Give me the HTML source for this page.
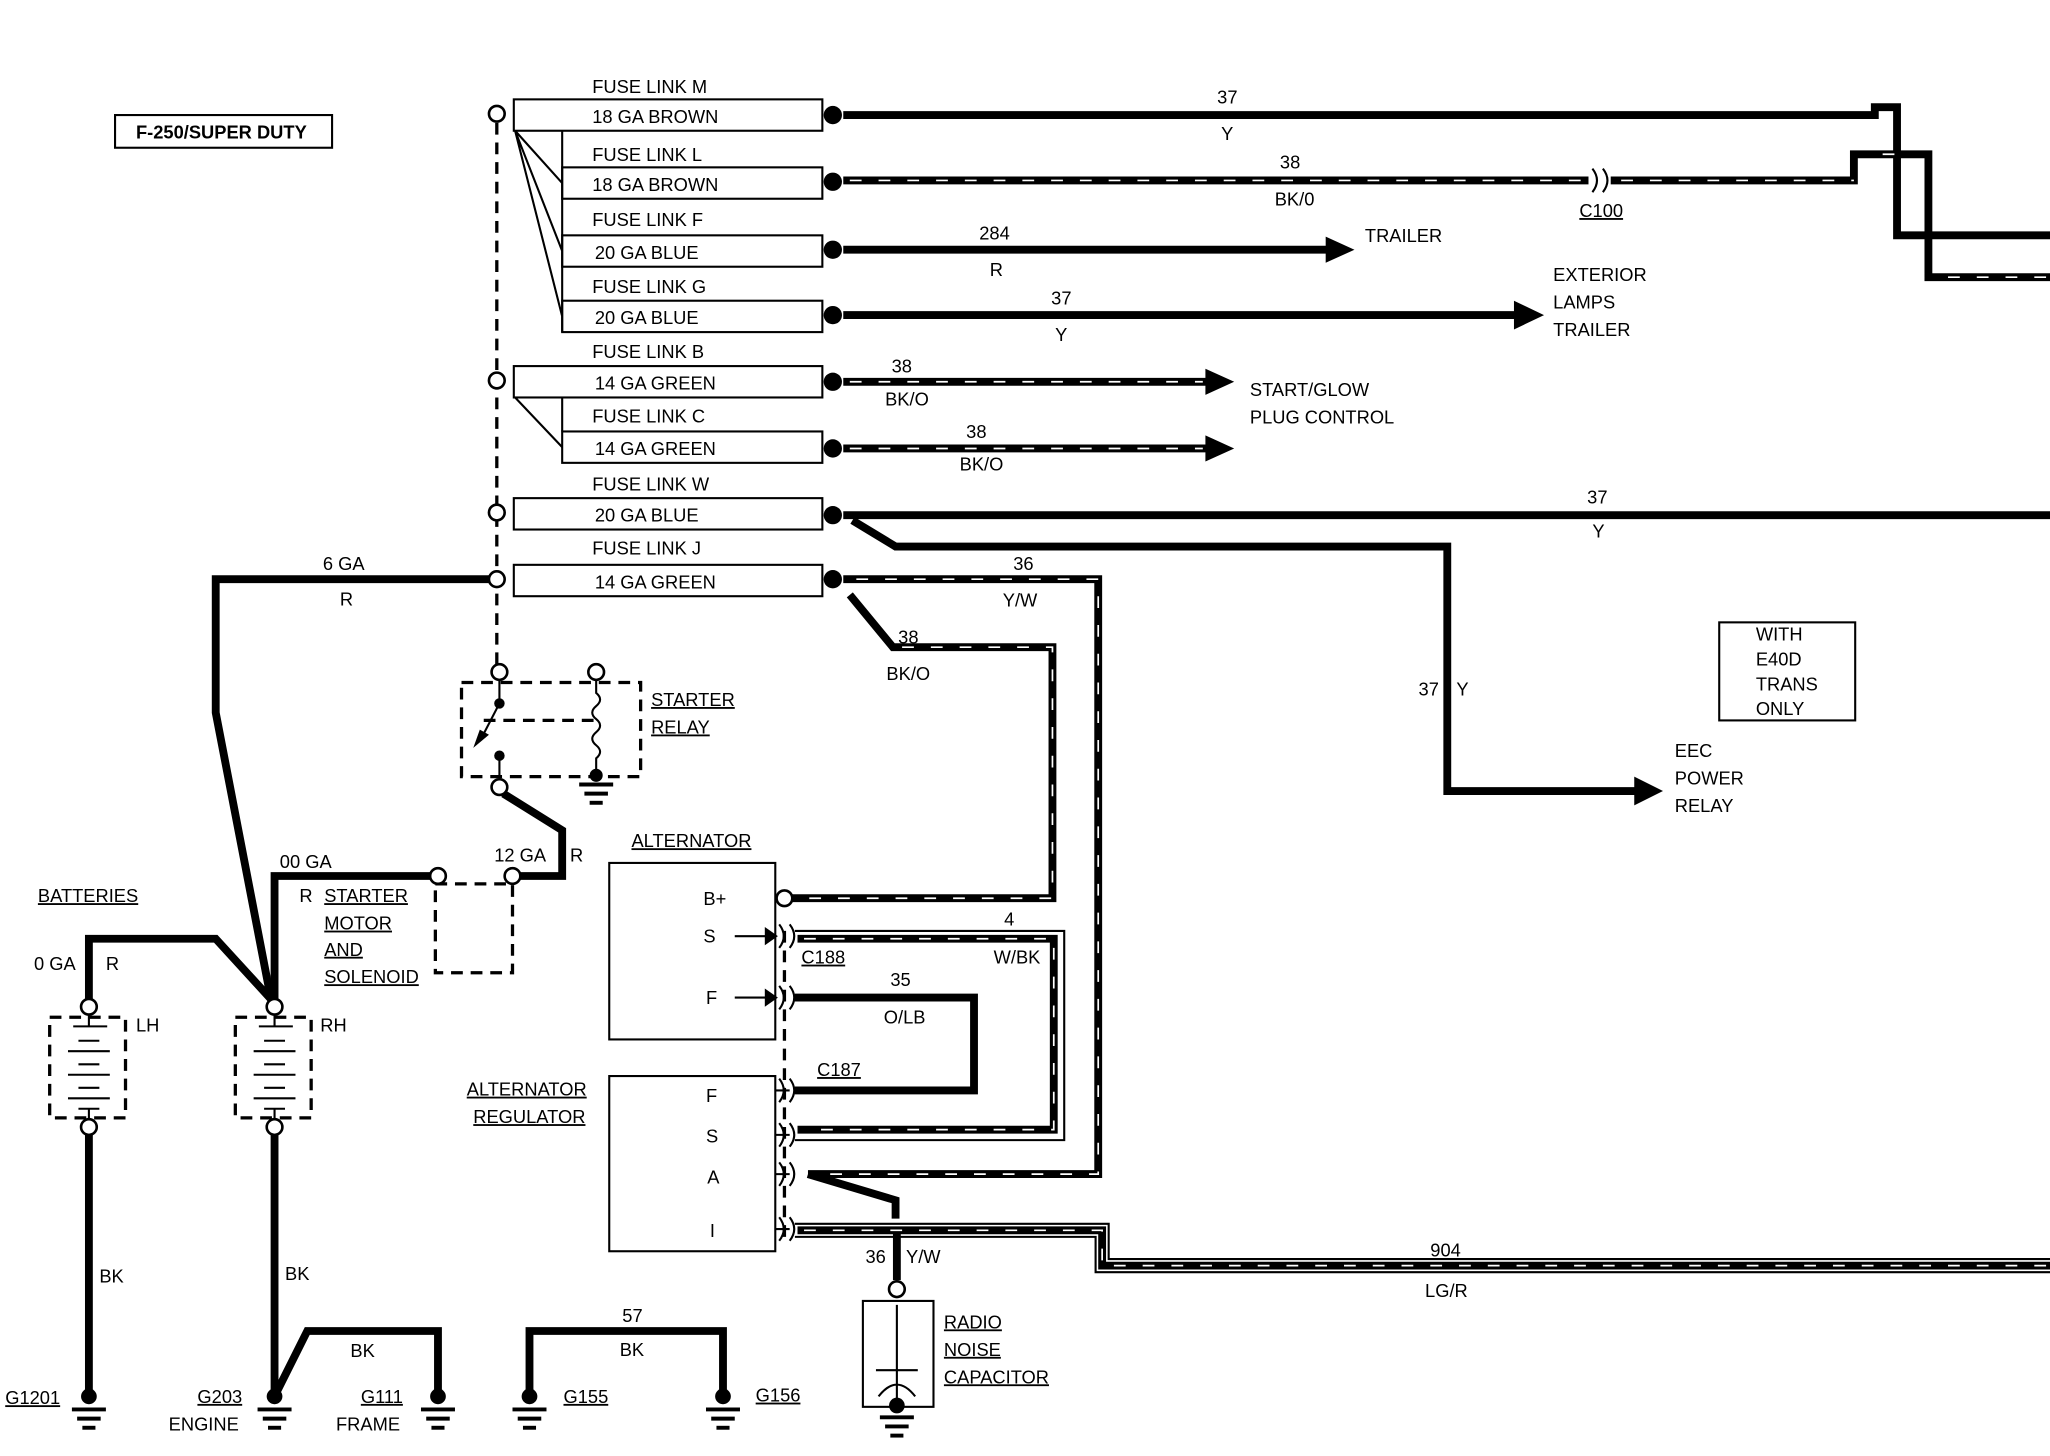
<!DOCTYPE html>
<html><head><meta charset="utf-8"><style>
html,body{margin:0;padding:0;background:#fff;}
svg{display:block;}
text{font-family:"Liberation Sans",sans-serif;font-size:14px;fill:#000;}
.w{stroke:#000;stroke-width:6;fill:none;stroke-linejoin:miter;}
.s{stroke:#fff;stroke-width:1.3;fill:none;stroke-dasharray:9 13;}
.t{stroke:#000;stroke-width:1.6;fill:none;}
.d{stroke:#000;stroke-width:2.5;fill:none;stroke-dasharray:9 6;}
.u{text-decoration:underline;}
</style></head><body>
<svg width="2050" height="1456" viewBox="0 0 1568 1113.6" preserveAspectRatio="none" xmlns="http://www.w3.org/2000/svg">
<defs>
<g id="gnd"><line x1="-13" y1="0" x2="13" y2="0" stroke="#000" stroke-width="3"/><line x1="-9" y1="7" x2="9" y2="7" stroke="#000" stroke-width="3"/><line x1="-5" y1="14" x2="5" y2="14" stroke="#000" stroke-width="3"/></g>
<g id="conn"><path d="M-8,-9 Q-1,0 -8,9" class="t" stroke-width="2.5"/><path d="M0,-9 Q7,0 0,9" class="t" stroke-width="2.5"/></g>
</defs>

<rect x="88" y="88" width="166" height="25" class="t" stroke-width="2"/>
<text x="104" y="106" font-size="13" font-weight="bold">F-250/SUPER DUTY</text>

<!-- dashed vertical bus -->
<line x1="380" y1="94" x2="380" y2="508" class="d" stroke-width="1.8"/>

<!-- fuse boxes -->
<g class="t" stroke-width="1.8">
<rect x="393" y="76" width="236" height="24"/>
<rect x="430" y="128" width="199" height="24"/>
<rect x="430" y="180" width="199" height="24"/>
<rect x="430" y="230" width="199" height="24"/>
<rect x="393" y="280" width="236" height="24"/>
<rect x="430" y="330" width="199" height="24"/>
<rect x="393" y="381" width="236" height="24"/>
<rect x="393" y="432" width="236" height="24"/>
<path d="M394,100 L430,140 M394,100 L430,192 M394,100 L430,242 M430,100 L430,254"/>
<path d="M394,304 L430,342 M430,304 L430,330"/>
</g>
<g font-size="14">
<text x="453" y="71">FUSE LINK M</text><text x="453" y="94">18 GA BROWN</text>
<text x="453" y="123">FUSE LINK L</text><text x="453" y="146">18 GA BROWN</text>
<text x="453" y="173">FUSE LINK F</text><text x="455" y="198">20 GA BLUE</text>
<text x="453" y="224">FUSE LINK G</text><text x="455" y="248">20 GA BLUE</text>
<text x="453" y="274">FUSE LINK B</text><text x="455" y="298">14 GA GREEN</text>
<text x="453" y="323">FUSE LINK C</text><text x="455" y="348">14 GA GREEN</text>
<text x="453" y="375">FUSE LINK W</text><text x="455" y="399">20 GA BLUE</text>
<text x="453" y="424">FUSE LINK J</text><text x="455" y="450">14 GA GREEN</text>
</g>
<g fill="#000">
<circle cx="637" cy="88" r="7"/><circle cx="637" cy="139" r="7"/><circle cx="637" cy="191" r="7"/><circle cx="637" cy="241" r="7"/>
<circle cx="637" cy="292" r="7"/><circle cx="637" cy="343" r="7"/><circle cx="637" cy="394" r="7"/><circle cx="637" cy="443" r="7"/>
</g>
<g fill="#fff" stroke="#000" stroke-width="2">
<circle cx="380" cy="87" r="6"/><circle cx="380" cy="291" r="6"/><circle cx="380" cy="392" r="6"/>
</g>

<!-- wires -->
<path class="w" d="M645,88 H1434 V82 H1451 V180 H1568"/>
<path class="w" d="M645,138 H1215"/><path class="s" d="M650,138 H1215"/>
<use href="#conn" x="1226" y="138"/>
<path class="w" d="M1232,138 H1418 V118 H1475 V212 H1568"/><path class="s" d="M1240,138 H1418 M1440,118 H1460 M1490,212 H1568"/>
<path class="w" d="M645,191 H1018"/><polygon points="1014,181 1036,191 1014,201"/>
<path class="w" d="M645,241 H1162"/><polygon points="1158,230 1181,241 1158,252"/>
<path class="w" d="M645,292 H925"/><path class="s" d="M650,292 H920"/><polygon points="922,282 944,292 922,302"/>
<path class="w" d="M645,343 H925"/><path class="s" d="M650,343 H920"/><polygon points="922,333 944,343 922,353"/>
<path class="w" d="M645,394 H1568"/>
<path class="w" d="M652,398 L685,418 H1107 V605 H1252"/><polygon points="1250,594 1272,605 1250,616"/>
<path class="w" d="M645,443 H840 V898 H618"/><path class="s" d="M655,443 H840 V898 H625"/>
<path class="w" d="M650,455 L683,495 H805 V687 H606"/><path class="s" d="M690,495 H805 V687 H612"/>
<path class="w" d="M618,898 L685,918 V932"/>

<g font-size="14">
<text x="931" y="79">37</text><text x="934" y="107">Y</text>
<text x="979" y="129">38</text><text x="975" y="157">BK/0</text>
<text x="1208" y="166" class="u" text-decoration="underline">C100</text>
<text x="749" y="183">284</text><text x="757" y="211">R</text><text x="1044" y="185">TRAILER</text>
<text x="804" y="233">37</text><text x="807" y="261">Y</text>
<text x="1188" y="215">EXTERIOR</text><text x="1188" y="236">LAMPS</text><text x="1188" y="257">TRAILER</text>
<text x="682" y="285">38</text><text x="677" y="310">BK/O</text>
<text x="956" y="303">START/GLOW</text><text x="956" y="324">PLUG CONTROL</text>
<text x="739" y="335">38</text><text x="734" y="360">BK/O</text>
<text x="1214" y="385">37</text><text x="1218" y="411">Y</text>
<text x="775" y="436">36</text><text x="767" y="464">Y/W</text>
<text x="687" y="492">38</text><text x="678" y="520">BK/O</text>
<text x="1085" y="532">37</text><text x="1114" y="532">Y</text>
<text x="1281" y="579">EEC</text><text x="1281" y="600">POWER</text><text x="1281" y="621">RELAY</text>
</g>
<rect x="1315" y="476" width="104" height="75" class="t" stroke-width="2"/>
<g font-size="14"><text x="1343" y="490">WITH</text><text x="1343" y="509">E40D</text><text x="1343" y="528">TRANS</text><text x="1343" y="547">ONLY</text></g>

<!-- 6 GA -->
<path class="w" d="M374,443 H165 V545 L208,768"/>
<circle cx="380" cy="443" r="6" fill="#fff" stroke="#000" stroke-width="2"/>
<text x="247" y="436">6 GA</text><text x="260" y="463">R</text>

<!-- starter relay -->
<rect x="353" y="522" width="137" height="72" class="d"/>
<line x1="370" y1="551" x2="456" y2="551" class="d" stroke-width="2"/>
<circle cx="382" cy="514" r="6" fill="#fff" stroke="#000" stroke-width="2"/>
<circle cx="456" cy="514" r="6" fill="#fff" stroke="#000" stroke-width="2"/>
<path class="t" stroke-width="2" d="M382,520 V538 M456,520 V530 Q462,535 456,540 Q450,545 456,550 Q462,555 456,560 Q450,565 456,570 Q462,575 456,580 V592 M382,580 V595"/>
<circle cx="382" cy="538" r="4" fill="#000"/><circle cx="382" cy="578" r="4" fill="#000"/>
<path d="M382,538 L368,565" class="t" stroke-width="2"/><polygon points="362,572 367,558 374,562"/>
<circle cx="456" cy="593" r="5" fill="#000"/>
<use href="#gnd" x="456" y="600"/>
<circle cx="382" cy="602" r="6" fill="#fff" stroke="#000" stroke-width="2"/>
<text x="498" y="540" class="u" text-decoration="underline">STARTER</text><text x="498" y="561" text-decoration="underline">RELAY</text>

<!-- starter motor -->
<path class="w" d="M385,607 L430,635 V670 H398"/>
<path class="w" d="M329,670 H210 V768"/>
<rect x="333" y="676" width="59" height="68" class="d"/>
<circle cx="335" cy="670" r="6" fill="#fff" stroke="#000" stroke-width="2"/>
<circle cx="392" cy="670" r="6" fill="#fff" stroke="#000" stroke-width="2"/>
<text x="378" y="659">12 GA</text><text x="436" y="659">R</text>
<text x="214" y="664">00 GA</text><text x="229" y="690">R</text>
<text x="248" y="690" text-decoration="underline">STARTER</text><text x="248" y="711" text-decoration="underline">MOTOR</text>
<text x="248" y="731" text-decoration="underline">AND</text><text x="248" y="752" text-decoration="underline">SOLENOID</text>

<!-- batteries -->
<text x="29" y="690" text-decoration="underline">BATTERIES</text>
<path class="w" d="M68,764 V718 H165 L208,765"/>
<text x="26" y="742">0 GA</text><text x="81" y="742">R</text>
<g id="bat">
<rect x="38" y="778" width="58" height="77" class="d"/>
<path class="t" stroke-width="2.2" d="M68,776 V785 M56,785 H82 M60,796 H76 M52,804 H84 M60,814 H76 M52,822 H84 M60,832 H76 M52,840 H84 M60,848 H76 M68,848 V856"/>
<circle cx="68" cy="770" r="6" fill="#fff" stroke="#000" stroke-width="2"/>
<circle cx="68" cy="862" r="6" fill="#fff" stroke="#000" stroke-width="2"/>
</g>
<use href="#bat" x="142" y="0"/>
<text x="104" y="789">LH</text><text x="245" y="789">RH</text>
<path class="w" d="M68,868 V1068"/><path class="w" d="M210,868 V1068 L235,1018 H335 V1068"/>
<path class="w" d="M405,1068 V1018 H553 V1068"/>
<g fill="#000"><circle cx="68" cy="1068" r="6"/><circle cx="210" cy="1068" r="6"/><circle cx="335" cy="1068" r="6"/><circle cx="405" cy="1068" r="6"/><circle cx="553" cy="1068" r="6"/></g>
<use href="#gnd" x="68" y="1078"/><use href="#gnd" x="210" y="1078"/><use href="#gnd" x="335" y="1078"/><use href="#gnd" x="405" y="1078"/><use href="#gnd" x="553" y="1078"/>
<text x="76" y="981">BK</text><text x="218" y="979">BK</text><text x="268" y="1038">BK</text>
<text x="476" y="1011">57</text><text x="474" y="1037">BK</text>
<text x="4" y="1074" text-decoration="underline">G1201</text>
<text x="151" y="1073" text-decoration="underline">G203</text><text x="129" y="1094">ENGINE</text>
<text x="276" y="1073" text-decoration="underline">G111</text><text x="257" y="1094">FRAME</text>
<text x="431" y="1073" text-decoration="underline">G155</text><text x="578" y="1072" text-decoration="underline">G156</text>

<!-- alternator -->
<text x="483" y="648" text-decoration="underline">ALTERNATOR</text>
<rect x="466" y="660" width="127" height="135" class="t" stroke-width="2.5"/>
<text x="538" y="692">B+</text><text x="538" y="721">S</text><text x="540" y="768">F</text>
<circle cx="600" cy="687" r="6" fill="#fff" stroke="#000" stroke-width="2"/>
<path class="t" stroke-width="2" d="M562,716 H590 M562,763 H590"/>
<polygon points="585,709 595,716 585,723"/><polygon points="585,756 595,763 585,770"/>

<!-- regulator -->
<text x="357" y="838" text-decoration="underline">ALTERNATOR</text><text x="362" y="859" text-decoration="underline">REGULATOR</text>
<rect x="466" y="823" width="127" height="134" class="t" stroke-width="2.5"/>
<text x="540" y="843">F</text><text x="540" y="874">S</text><text x="541" y="905">A</text><text x="543" y="946">I</text>
<path class="t" stroke-width="2" d="M593,834 H604 M593,868 H604 M593,898 H604 M593,940 H604"/>
<line x1="600" y1="712" x2="600" y2="950" class="d" stroke-width="1.5" stroke-dasharray="6 5"/>
<use href="#conn" x="604" y="716"/><use href="#conn" x="604" y="763"/>
<use href="#conn" x="604" y="834"/><use href="#conn" x="604" y="868"/><use href="#conn" x="604" y="898"/><use href="#conn" x="604" y="940"/>

<!-- S wire (double outlined) -->
<path class="t" stroke-width="1.8" d="M608,712 H814 V872 H608"/>
<path class="w" stroke-width="5" d="M610,718 H806 V864 H610"/><path class="s" d="M615,718 H806 V864 H615"/>
<text x="768" y="708">4</text><text x="760" y="737">W/BK</text>
<text x="613" y="737" text-decoration="underline">C188</text>
<!-- F wire -->
<path class="w" d="M608,763 H745 V834 H608"/><path class="s" d="M760,0"/>
<text x="681" y="754">35</text><text x="676" y="783">O/LB</text>
<text x="625" y="823" text-decoration="underline">C187</text>
<!-- I wire -->
<path class="t" stroke-width="1.8" d="M608,936 H848 V963 H1568 M608,946 H838 V973 H1568"/>
<path class="w" stroke-width="4.5" d="M610,941 H843 V968 H1568"/><path class="s" d="M615,941 H843 V968 H1568"/>
<text x="1094" y="961">904</text><text x="1090" y="992">LG/R</text>

<!-- capacitor -->
<path class="w" d="M686,943 V979"/>
<text x="662" y="966">36</text><text x="693" y="966">Y/W</text>
<circle cx="686" cy="986" r="6" fill="#fff" stroke="#000" stroke-width="2"/>
<rect x="660" y="995" width="54" height="81" class="t" stroke-width="3"/>
<path class="t" stroke-width="2" d="M686,998 V1070 M670,1048 H702 M672,1068 Q686,1050 700,1068"/>
<circle cx="686" cy="1075" r="6" fill="#000"/>
<use href="#gnd" x="686" y="1084"/>
<text x="722" y="1016" text-decoration="underline">RADIO</text><text x="722" y="1037" text-decoration="underline">NOISE</text><text x="722" y="1058" text-decoration="underline">CAPACITOR</text>
</svg>
</body></html>
